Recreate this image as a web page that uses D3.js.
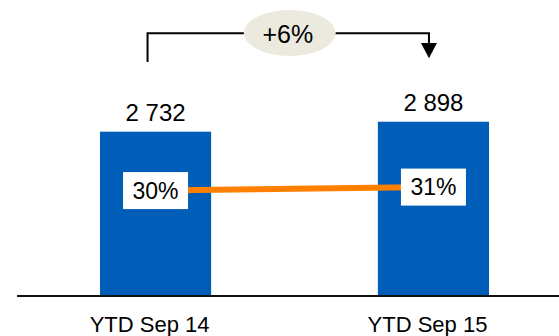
<!DOCTYPE html>
<html>
<head>
<meta charset="utf-8">
<script src="https://cdn.jsdelivr.net/npm/d3@7"></script>
<style>
  html, body { margin: 0; padding: 0; background: #ffffff; }
  svg { display: block; font-family: "Liberation Sans", Arial, sans-serif; }
</style>
</head>
<body>
<svg id="chart" width="559" height="336"></svg>
<script>
// Period categories, volume bars and margin ratio line
const categories = ["YTD Sep 14", "YTD Sep 15"];
const volumes = [2732, 2898];
const volumeLabels = ["2 732", "2 898"];
const ratios = [0.30, 0.31];
const ratioLabels = ["30%", "31%"];
const growthLabel = "+6%";

const W = 559, H = 336;
const baseY = 295.5;

const svg = d3.select("#chart");

const x = d3.scaleBand()
  .domain(categories)
  .range([16.6, 572.4])
  .paddingInner(0.6)
  .paddingOuter(0.3);

const y = d3.scaleLinear().domain([0, 4928]).range([baseY, 0]);
const y2 = d3.scaleLinear().domain([0, 0.845]).range([baseY, 0]);

const cx = c => x(c) + x.bandwidth() / 2;

// Bars
svg.append("g").selectAll("rect")
  .data(categories)
  .join("rect")
  .attr("x", d => x(d))
  .attr("y", (d, i) => y(volumes[i]))
  .attr("width", x.bandwidth())
  .attr("height", (d, i) => baseY - y(volumes[i]))
  .attr("fill", "#005EB8");

// Value labels above bars
svg.append("g").selectAll("text")
  .data(categories)
  .join("text")
  .attr("x", d => cx(d))
  .attr("y", (d, i) => y(volumes[i]) - 10.5)
  .attr("text-anchor", "middle")
  .attr("font-size", 24)
  .attr("fill", "#000")
  .text((d, i) => volumeLabels[i]);

// Baseline axis with category labels
const axis = d3.axisBottom(x).tickSize(0).tickSizeOuter(0);
const gx = svg.append("g")
  .attr("transform", `translate(0,${baseY})`)
  .call(axis);
gx.select(".domain").attr("stroke", "#111").attr("stroke-width", 2);
gx.selectAll(".tick text")
  .attr("font-size", 22)
  .attr("font-family", "'Liberation Sans', Arial, sans-serif")
  .attr("fill", "#000")
  .attr("dx", -6)
  .attr("dy", 0)
  .attr("y", 36.5);

// Ratio line between the bars
const line = d3.line()
  .x((d, i) => cx(categories[i]))
  .y(d => y2(d));
svg.append("path")
  .datum(ratios)
  .attr("d", line)
  .attr("fill", "none")
  .attr("stroke", "#FF8000")
  .attr("stroke-width", 6);

// Ratio label boxes
const boxW = 65, boxH = 37;
const rg = svg.append("g").selectAll("g")
  .data(categories)
  .join("g")
  .attr("transform", (d, i) => `translate(${cx(d)},${y2(ratios[i])})`);
rg.append("rect")
  .attr("x", -boxW / 2)
  .attr("y", -boxH / 2)
  .attr("width", boxW)
  .attr("height", boxH)
  .attr("fill", "#ffffff");
rg.append("text")
  .attr("text-anchor", "middle")
  .attr("dy", "0.36em")
  .attr("font-size", 23)
  .attr("fill", "#000")
  .text((d, i) => ratioLabels[i]);

// Growth bracket with arrow
const topY = 33.3;
const leftX = cx(categories[0]) - 8;
const rightX = cx(categories[1]) - 4.5;
const leftBottom = 62;
const arrowTop = 43, arrowTip = 58.3, arrowHalf = 8;

svg.append("path")
  .attr("d", `M${leftX},${leftBottom} V${topY} H${rightX} V${arrowTop + 1}`)
  .attr("fill", "none")
  .attr("stroke", "#000")
  .attr("stroke-width", 2);
svg.append("path")
  .attr("d", `M${rightX - arrowHalf},${arrowTop} L${rightX + arrowHalf},${arrowTop} L${rightX},${arrowTip} Z`)
  .attr("fill", "#000");

const ex = (leftX + rightX) / 2 + 1.5;
svg.append("ellipse")
  .attr("cx", ex)
  .attr("cy", 33)
  .attr("rx", 46)
  .attr("ry", 23)
  .attr("fill", "#ECEADF");
svg.append("text")
  .attr("x", ex - 2)
  .attr("y", 34)
  .attr("dy", "0.36em")
  .attr("text-anchor", "middle")
  .attr("font-size", 25)
  .attr("fill", "#000")
  .text(growthLabel);
</script>
</body>
</html>
